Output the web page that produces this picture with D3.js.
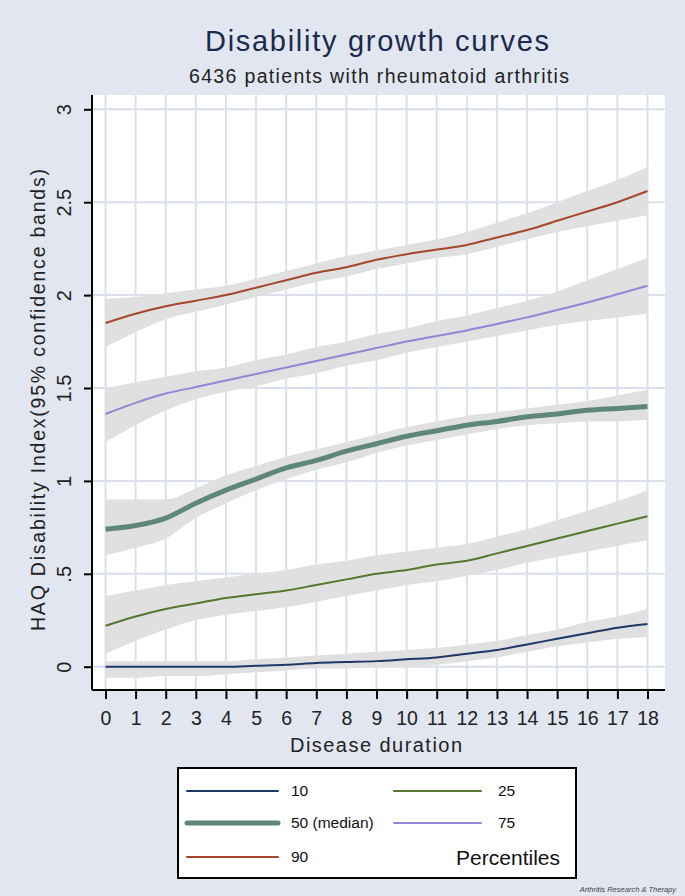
<!DOCTYPE html>
<html><head><meta charset="utf-8">
<script src="https://cdn.jsdelivr.net/npm/d3@7"></script>
<style>html,body{margin:0;padding:0;background:#e1e6f0;}svg{display:block;font-family:"Liberation Sans",Arial,sans-serif;}</style>
</head><body>
<script>
const years = [0,1,2,3,4,5,6,7,8,9,10,11,12,13,14,15,16,17,18];
const p10 = [0,0,0,0,0,0.005,0.01,0.02,0.025,0.03,0.04,0.05,0.07,0.09,0.12,0.15,0.18,0.21,0.23];
const p10Upper = [0.03,0.03,0.03,0.03,0.03,0.04,0.05,0.06,0.07,0.08,0.09,0.10,0.12,0.14,0.17,0.20,0.24,0.27,0.31];
const p10Lower = [-0.06,-0.06,-0.05,-0.05,-0.04,-0.03,-0.02,-0.01,-0.01,0.00,0.00,0.01,0.03,0.05,0.08,0.11,0.13,0.15,0.16];
const p25 = [0.22,0.27,0.31,0.34,0.37,0.39,0.41,0.44,0.47,0.50,0.52,0.55,0.57,0.61,0.65,0.69,0.73,0.77,0.81];
const p25Upper = [0.38,0.41,0.44,0.46,0.48,0.50,0.52,0.55,0.57,0.60,0.62,0.64,0.66,0.70,0.74,0.79,0.84,0.89,0.95];
const p25Lower = [0.07,0.14,0.20,0.25,0.28,0.30,0.32,0.35,0.38,0.41,0.44,0.46,0.49,0.52,0.56,0.59,0.62,0.65,0.68];
const p50 = [0.74,0.76,0.80,0.88,0.95,1.01,1.07,1.11,1.16,1.20,1.24,1.27,1.30,1.32,1.345,1.36,1.38,1.39,1.40];
const p50Upper = [0.90,0.90,0.90,0.96,1.03,1.08,1.13,1.17,1.21,1.25,1.29,1.32,1.35,1.37,1.39,1.41,1.43,1.46,1.49];
const p50Lower = [0.60,0.64,0.69,0.80,0.88,0.95,1.01,1.06,1.10,1.15,1.19,1.22,1.25,1.28,1.30,1.31,1.32,1.32,1.33];
const p75 = [1.36,1.42,1.47,1.505,1.54,1.575,1.61,1.645,1.68,1.715,1.75,1.78,1.81,1.845,1.88,1.92,1.96,2.005,2.05];
const p75Upper = [1.50,1.53,1.56,1.59,1.61,1.65,1.68,1.72,1.75,1.79,1.82,1.86,1.89,1.93,1.97,2.02,2.08,2.14,2.20];
const p75Lower = [1.21,1.30,1.38,1.44,1.48,1.51,1.55,1.58,1.62,1.65,1.69,1.72,1.75,1.78,1.81,1.84,1.86,1.88,1.90];
const p90 = [1.85,1.90,1.94,1.97,2.00,2.04,2.08,2.12,2.15,2.19,2.22,2.245,2.27,2.31,2.35,2.40,2.45,2.50,2.56];
const p90Upper = [1.98,1.99,2.01,2.03,2.05,2.09,2.13,2.17,2.21,2.24,2.27,2.30,2.34,2.39,2.44,2.50,2.56,2.62,2.69];
const p90Lower = [1.72,1.80,1.87,1.91,1.95,1.99,2.03,2.07,2.10,2.14,2.17,2.20,2.22,2.26,2.30,2.34,2.37,2.40,2.43];
const xTicks = years;
const yTicks = [0,0.5,1,1.5,2,2.5,3];
const yTickLabels = ["0",".5","1","1.5","2","2.5","3"];
const seriesNames = ["10","25","50 (median)","75","90"];
const titleText = "Disability growth curves";
const subtitleText = "6436 patients with rheumatoid arthritis";
const yTitle = "HAQ Disability Index(95% confidence bands)";
const xTitle = "Disease duration";
const legendTitle = "Percentiles";
const credit = "Arthritis Research & Therapy";

const W = 685, H = 896;
const plot = {left: 92, right: 665, top: 95, bottom: 690};
const svg = d3.select("body").append("svg").attr("width", W).attr("height", H);
svg.append("rect").attr("width", W).attr("height", H).attr("fill", "#e1e6f0");

const x = d3.scaleLinear().domain([0, 18]).range([105.5, 647.5]);
const y = d3.scaleLinear().domain([0, 3]).range([666.7, 109.3]);

svg.append("rect").attr("x", plot.left).attr("y", plot.top)
  .attr("width", plot.right - plot.left).attr("height", plot.bottom - plot.top).attr("fill", "#ffffff");

const grid = svg.append("g").attr("stroke", "#dbe1ec").attr("stroke-width", 2);
grid.selectAll("line.v").data(xTicks).join("line")
  .attr("x1", d => x(d)).attr("x2", d => x(d)).attr("y1", plot.top).attr("y2", plot.bottom);
grid.selectAll("line.h").data(yTicks).join("line")
  .attr("x1", plot.left).attr("x2", plot.right).attr("y1", d => y(d)).attr("y2", d => y(d));

const series = [
  {name: seriesNames[0], v: p10, u: p10Upper, l: p10Lower, color: "#1f3868", w: 2},
  {name: seriesNames[1], v: p25, u: p25Upper, l: p25Lower, color: "#55782c", w: 2},
  {name: seriesNames[2], v: p50, u: p50Upper, l: p50Lower, color: "#5f8777", w: 5},
  {name: seriesNames[3], v: p75, u: p75Upper, l: p75Lower, color: "#9386d6", w: 2},
  {name: seriesNames[4], v: p90, u: p90Upper, l: p90Lower, color: "#a5472a", w: 2}
];

const area = d3.area().x((d, i) => x(years[i])).y0(d => y(d[0])).y1(d => y(d[1])).curve(d3.curveMonotoneX);
const line = d3.line().x((d, i) => x(years[i])).y(d => y(d)).curve(d3.curveMonotoneX);

svg.append("clipPath").attr("id", "clip").append("rect")
  .attr("x", plot.left).attr("y", plot.top).attr("width", plot.right - plot.left).attr("height", plot.bottom - plot.top);
const bands = svg.append("g").attr("clip-path", "url(#clip)");
series.forEach(s => {
  bands.append("path").datum(s.l.map((lv, i) => [lv, s.u[i]])).attr("d", area).attr("fill", "#e0e0e0");
});
series.forEach(s => {
  bands.append("path").datum(s.v).attr("d", line).attr("fill", "none")
    .attr("stroke", s.color).attr("stroke-width", s.w);
});

// axes
const yAxis = d3.axisLeft(y).tickValues(yTicks).tickSize(8).tickFormat((d, i) => yTickLabels[i]);
const gy = svg.append("g").attr("transform", `translate(${plot.left},0)`).call(yAxis);
gy.select(".domain").attr("d", `M0,${plot.top}V${plot.bottom}`).attr("stroke", "#000").attr("stroke-width", 2);
gy.selectAll(".tick line").attr("stroke", "#000").attr("stroke-width", 2);
gy.selectAll(".tick text").attr("font-size", 20).attr("fill", "#222").attr("font-family", "Liberation Sans, Arial, sans-serif")
  .attr("x", null).attr("dy", null).attr("text-anchor", "middle")
  .attr("transform", "translate(-21,0) rotate(-90)").attr("dy", "0");

const xAxis = d3.axisBottom(x).tickValues(xTicks).tickSize(9).tickFormat(d3.format("d"));
const gx = svg.append("g").attr("transform", `translate(0,${plot.bottom})`).call(xAxis);
gx.select(".domain").attr("d", `M${plot.left},0H${plot.right}`).attr("stroke", "#000").attr("stroke-width", 2);
gx.selectAll(".tick line").attr("stroke", "#000").attr("stroke-width", 2);
gx.selectAll(".tick text").attr("font-size", 19.5).attr("fill", "#222").attr("font-family", "Liberation Sans, Arial, sans-serif")
  .attr("y", 21).attr("dy", "0.71em");

// titles
svg.append("text").attr("x", 377).attr("y", 51).attr("text-anchor", "middle")
  .attr("font-size", 29).attr("fill", "#1b2a4c")
  .attr("textLength", 344).attr("lengthAdjust", "spacing").text(titleText);
svg.append("text").attr("x", 379).attr("y", 83).attr("text-anchor", "middle")
  .attr("font-size", 19.5).attr("fill", "#222")
  .attr("textLength", 380).attr("lengthAdjust", "spacing").text(subtitleText);
svg.append("text").attr("transform", `translate(45,400) rotate(-90)`).attr("text-anchor", "middle")
  .attr("font-size", 19.5).attr("fill", "#222")
  .attr("textLength", 462).attr("lengthAdjust", "spacing").text(yTitle);
svg.append("text").attr("x", 376).attr("y", 752).attr("text-anchor", "middle")
  .attr("font-size", 20).attr("fill", "#222")
  .attr("textLength", 172).attr("lengthAdjust", "spacing").text(xTitle);

// legend
const lg = svg.append("g");
lg.append("rect").attr("x", 178).attr("y", 768).attr("width", 398).attr("height", 110)
  .attr("fill", "#fff").attr("stroke", "#000").attr("stroke-width", 2);
const legendPos = [
  {x1: 187, x2: 278, tx: 291, y: 791},
  {x1: 394, x2: 481, tx: 498, y: 791},
  {x1: 187, x2: 278, tx: 291, y: 823},
  {x1: 394, x2: 481, tx: 498, y: 823},
  {x1: 187, x2: 278, tx: 291, y: 857}
];
series.forEach((s, i) => {
  const p = legendPos[i];
  lg.append("line").attr("x1", p.x1).attr("x2", p.x2).attr("y1", p.y).attr("y2", p.y)
    .attr("stroke", s.color).attr("stroke-width", s.w).attr("stroke-linecap", "round");
  lg.append("text").attr("x", p.tx).attr("y", p.y).attr("dy", "0.35em")
    .attr("font-size", 15.5).attr("fill", "#111").text(s.name);
});
lg.append("text").attr("x", 560).attr("y", 865).attr("text-anchor", "end")
  .attr("font-size", 21).attr("fill", "#111").text(legendTitle);

svg.append("text").attr("x", 676).attr("y", 892).attr("text-anchor", "end")
  .attr("font-size", 7.5).attr("font-style", "italic").attr("fill", "#444").text(credit);
</script>
</body></html>
